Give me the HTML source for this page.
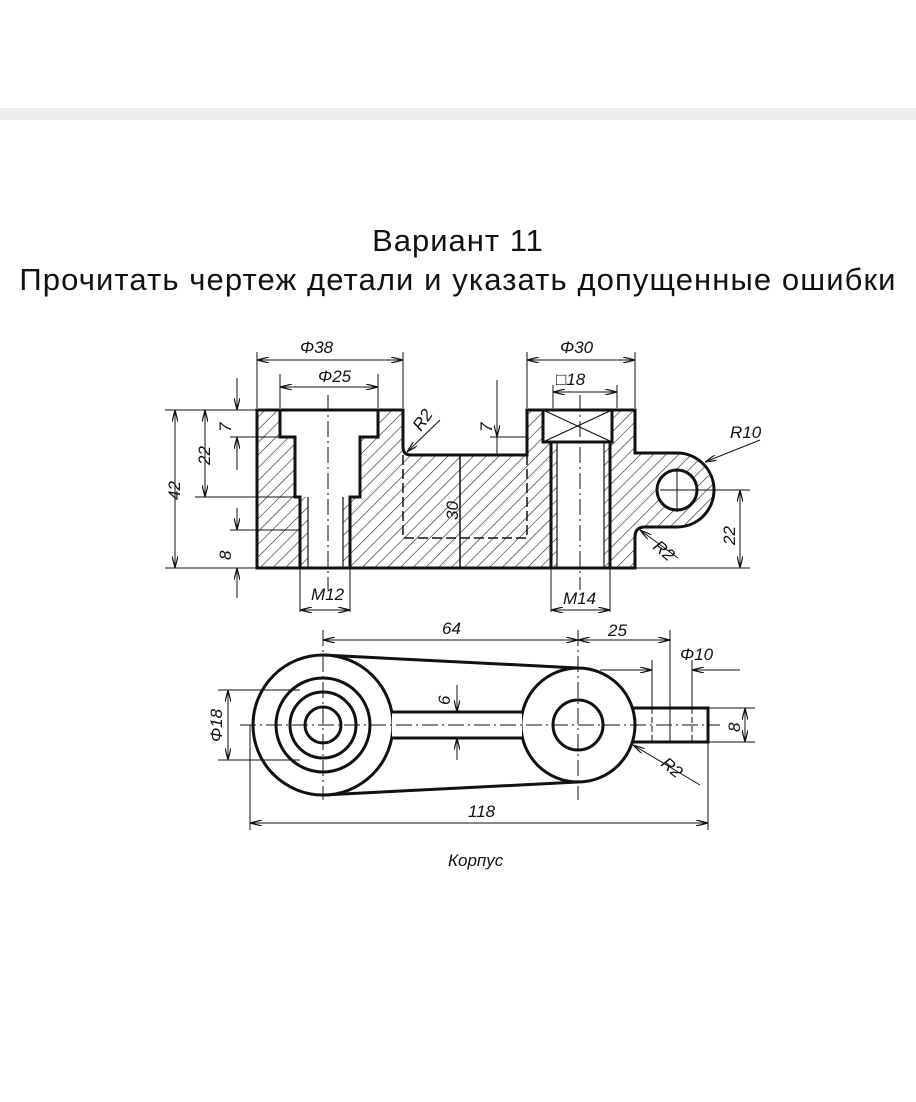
<!DOCTYPE html>
<html><head><meta charset="utf-8"><style>
body{margin:0;background:#fff;width:916px;height:1102px;overflow:hidden;position:relative;font-family:"Liberation Sans",sans-serif}
.band{position:absolute;left:0;top:108px;width:916px;height:12px;background:#eeeeee}
.t1{position:absolute;top:223px;left:0;width:916px;text-align:center;font-size:31px;letter-spacing:1px;color:#111}
.t2{position:absolute;top:262px;left:-10px;width:936px;text-align:center;font-size:31px;letter-spacing:1.1px;color:#111;white-space:nowrap}
svg{position:absolute;left:0;top:0}
text{font-family:"Liberation Sans",sans-serif;font-style:italic;font-size:17px;fill:#111}
</style></head><body>
<div class="band"></div>
<div class="t1">Вариант 11</div>
<div class="t2">Прочитать чертеж детали и указать допущенные ошибки</div>
<svg width="916" height="1102" viewBox="0 0 916 1102">
<defs>
<pattern id="h" patternUnits="userSpaceOnUse" width="9" height="9" patternTransform="rotate(45)">
<line x1="0" y1="0" x2="0" y2="9" stroke="#222" stroke-width="1.2"/></pattern>
<marker id="a" markerWidth="12" markerHeight="6" refX="12" refY="3" orient="auto-start-reverse" markerUnits="userSpaceOnUse"><path d="M0,0 L12,3 L0,6" fill="none" stroke="#111" stroke-width="1.2"/></marker>
</defs>
<g stroke="#111" fill="none">
<path d="M257,410 L403,410 L403,447 Q403,455 411,455 L527,455 L527,410 L635,410 L635,453 L677,453 A37,37 0 0 1 677,527 L645,527 Q635,527 635,537 L635,568 L257,568 Z" fill="url(#h)" stroke-width="3"/>
<path d="M280,410 L378,410 L378,437 L360,437 L360,497 L350,497 L350,568 L300,568 L300,497 L295,497 L295,437 L280,437 Z" fill="#fff" stroke-width="3"/>
<rect x="300" y="497" width="8" height="71" fill="url(#h)" stroke="none"/>
<rect x="343" y="497" width="7" height="71" fill="url(#h)" stroke="none"/>
<line x1="308" y1="497" x2="308" y2="568" stroke-width="1.2"/><line x1="343" y1="497" x2="343" y2="568" stroke-width="1.2"/>
<rect x="543" y="410" width="69" height="32" fill="#fff" stroke-width="3"/>
<path d="M543,410 L612,442 M612,410 L543,442" stroke-width="1.2"/>
<rect x="551" y="442" width="59" height="126" fill="#fff" stroke-width="3"/>
<rect x="551" y="442" width="6" height="126" fill="url(#h)" stroke="none"/>
<rect x="604" y="442" width="6" height="126" fill="url(#h)" stroke="none"/>
<line x1="557" y1="442" x2="557" y2="568" stroke-width="1.2"/><line x1="604" y1="442" x2="604" y2="568" stroke-width="1.2"/>
<circle cx="677" cy="490" r="20" fill="#fff" stroke-width="3"/>
<path d="M660,490 L700,490 M677,470 L677,512" stroke-width="1"/>
<path d="M403,455 L403,538 L527,538 L527,455" stroke-width="1.5" stroke-dasharray="10,4"/>
<line x1="460" y1="455" x2="460" y2="568" stroke-width="1.5"/>
<line x1="328" y1="395" x2="328" y2="590" stroke-width="1" stroke-dasharray="16,4,2,4"/>
<line x1="580" y1="395" x2="580" y2="590" stroke-width="1" stroke-dasharray="16,4,2,4"/>
<g stroke-width="1">
<path d="M257,408 V352 M403,408 V352 M280,408 V374 M378,408 V374 M527,408 V352 M635,408 V352 M553,408 V385 M617,408 V385"/>
<line x1="257" y1="360" x2="403" y2="360" marker-start="url(#a)" marker-end="url(#a)"/>
<line x1="280" y1="387" x2="378" y2="387" marker-start="url(#a)" marker-end="url(#a)"/>
<line x1="527" y1="360" x2="635" y2="360" marker-start="url(#a)" marker-end="url(#a)"/>
<line x1="553" y1="392" x2="617" y2="392" marker-start="url(#a)" marker-end="url(#a)"/>
<path d="M165,410 H257 M165,568 H257 M195,497 H295 M230,437 H295 M230,530 H300 M635,568 H750 M700,490 H750"/>
<line x1="175" y1="410" x2="175" y2="568" marker-start="url(#a)" marker-end="url(#a)"/>
<line x1="205" y1="410" x2="205" y2="497" marker-start="url(#a)" marker-end="url(#a)"/>
<line x1="237" y1="378" x2="237" y2="410" marker-end="url(#a)"/><line x1="237" y1="437" x2="237" y2="470" marker-start="url(#a)"/>
<line x1="237" y1="508" x2="237" y2="530" marker-end="url(#a)"/><line x1="237" y1="568" x2="237" y2="598" marker-start="url(#a)"/>
<line x1="740" y1="490" x2="740" y2="568" marker-start="url(#a)" marker-end="url(#a)"/>
<path d="M497,380 V455 M490,437 H527 M490,455 H527"/>
<line x1="497" y1="380" x2="497" y2="437" marker-end="url(#a)"/>
<path d="M300,568 V612 M350,568 V612 M551,568 V612 M610,568 V612"/>
<line x1="300" y1="610" x2="350" y2="610" marker-start="url(#a)" marker-end="url(#a)"/>
<line x1="551" y1="610" x2="610" y2="610" marker-start="url(#a)" marker-end="url(#a)"/>
<line x1="440" y1="420" x2="407" y2="452" marker-end="url(#a)"/>
<line x1="760" y1="440" x2="705" y2="462" marker-end="url(#a)"/>
<line x1="678" y1="558" x2="640" y2="530" marker-end="url(#a)"/>
</g>
<g stroke-width="3">
<path d="M323,655 L578,668 M323,795 L578,782"/>
<circle cx="323" cy="725" r="70" fill="#fff"/>
<circle cx="323" cy="725" r="47"/><circle cx="323" cy="725" r="33"/><circle cx="323" cy="725" r="18"/>
<path d="M630,708 L708,708 L708,742 L630,742"/>
<circle cx="578" cy="725" r="57" fill="#fff"/>
<circle cx="578" cy="725" r="25"/>
</g>
<rect x="392" y="713.5" width="130" height="23" fill="#fff" stroke="none"/>
<path d="M392,712 L522,712 M392,738 L522,738" stroke-width="3"/>
<g stroke-width="1">
<path d="M240,725 H720 M323,630 V800 M578,630 V800" stroke-dasharray="16,4,2,4"/>
<path d="M652,708 V742 M692,708 V742" stroke-dasharray="6,3"/>
<path d="M670,630 V742 M652,660 V708 M692,660 V708 M708,742 V830 M250,725 V830"/>
<line x1="323" y1="640" x2="578" y2="640" marker-start="url(#a)" marker-end="url(#a)"/>
<line x1="578" y1="640" x2="670" y2="640" marker-start="url(#a)" marker-end="url(#a)"/>
<line x1="600" y1="670" x2="652" y2="670" marker-end="url(#a)"/><line x1="692" y1="670" x2="740" y2="670" marker-start="url(#a)"/>
<line x1="250" y1="823" x2="708" y2="823" marker-start="url(#a)" marker-end="url(#a)"/>
<path d="M218,690 H300 M218,760 H300 M708,708 H755 M708,742 H755"/>
<line x1="228" y1="690" x2="228" y2="760" marker-start="url(#a)" marker-end="url(#a)"/>
<line x1="745" y1="708" x2="745" y2="742" marker-start="url(#a)" marker-end="url(#a)"/>
<line x1="457" y1="685" x2="457" y2="712" marker-end="url(#a)"/><line x1="457" y1="738" x2="457" y2="760" marker-start="url(#a)"/>
<line x1="700" y1="785" x2="633" y2="745" marker-end="url(#a)"/>
</g>
</g>
<g>
<text x="300" y="353">Φ38</text>
<text x="318" y="382">Φ25</text>
<text x="560" y="353">Φ30</text>
<text x="556" y="385">□18</text>
<text x="730" y="438">R10</text>
<text transform="translate(180,500) rotate(-90)">42</text>
<text transform="translate(210,465) rotate(-90)">22</text>
<text transform="translate(231,432) rotate(-90)">7</text>
<text transform="translate(231,560) rotate(-90)">8</text>
<text transform="translate(492,432) rotate(-90)">7</text>
<text transform="translate(458,520) rotate(-90)">30</text>
<text transform="translate(421,432) rotate(-55)">R2</text>
<text transform="translate(652,548) rotate(40)">R2</text>
<text transform="translate(735,545) rotate(-90)">22</text>
<text x="311" y="600">M12</text>
<text x="563" y="604">M14</text>
<text x="442" y="634">64</text>
<text x="608" y="636">25</text>
<text x="680" y="660">Φ10</text>
<text transform="translate(222,742) rotate(-90)">Φ18</text>
<text transform="translate(450,705) rotate(-90)">6</text>
<text transform="translate(740,732) rotate(-90)">8</text>
<text transform="translate(660,765) rotate(40)">R2</text>
<text x="468" y="817">118</text>
<text x="448" y="866">Корпус</text>
</g>
</svg>
</body></html>
